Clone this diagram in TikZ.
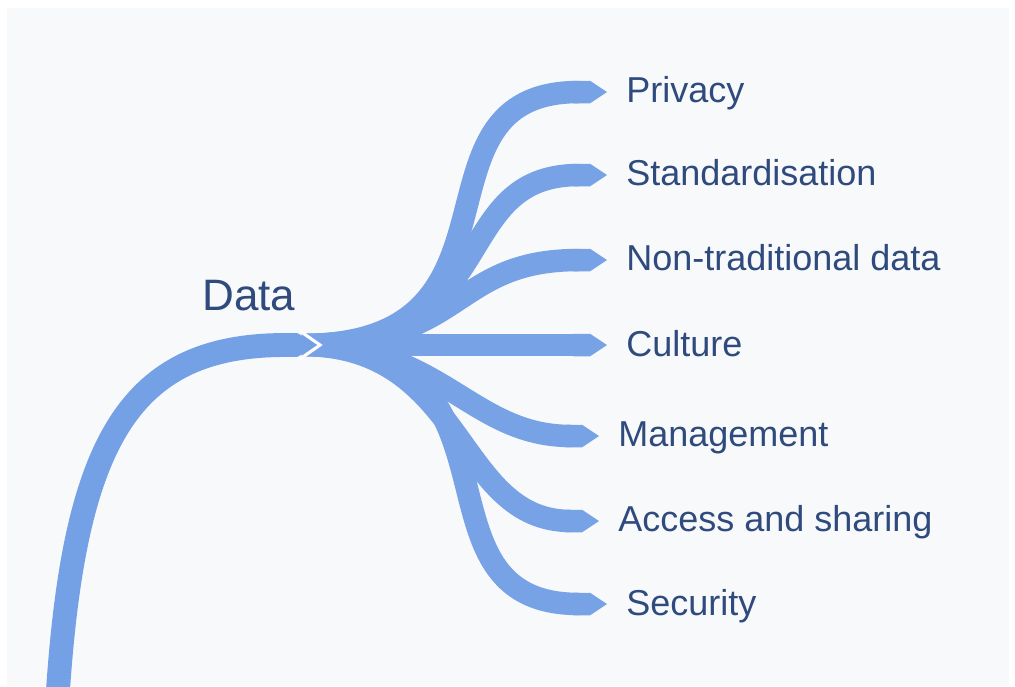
\documentclass[tikz,border=0pt]{standalone}
\usepackage{fontspec}
\setmainfont{Liberation Sans}
\usepackage{tikz}
\usetikzlibrary{arrows.meta, positioning, calc}
\definecolor{branchblue}{HTML}{78A2E6}
\definecolor{stemblue}{HTML}{74A0E6}
\definecolor{labelblue}{HTML}{2F4A7C}
\definecolor{panelgrey}{HTML}{F8F9FB}
\tikzset{
    branch/.style={draw=branchblue, line width=16pt, -{Triangle Cap[length=12pt]}},
    stem/.style={draw=stemblue, line width=17pt, -{Triangle Cap[length=14pt]}},
    notch/.style={draw=white, line width=2.2pt, line join=miter},
    lbl/.style={anchor=base west, inner sep=0pt, text=labelblue, font=\fontsize{25.6}{30}\selectfont},
    toplbl/.style={lbl, font=\fontsize{31.3}{36}\selectfont},
}

\begin{document}
\begin{tikzpicture}[x=0.025cm, y=-0.025cm]
    \useasboundingbox (0,0) rectangle (1015,686);
    \fill[white] (0,0) rectangle (1015,686);
    \fill[panelgrey] (7,8) rectangle (1009,686);

    \coordinate (s0) at (58,690);
    \coordinate (s1) at (317,345);
    \coordinate (root) at (302,345);

    \coordinate (bpriv) at (607,92);
    \coordinate (bstd) at (607,175);
    \coordinate (bntd) at (607,260);
    \coordinate (bcult) at (607,345);
    \coordinate (bmgmt) at (599,436);
    \coordinate (bacc) at (599,521);
    \coordinate (bsec) at (607,604);

    \node[toplbl] (data) at (202,310) {Data};
    \node[lbl] (priv) at (626,102) {Privacy};
    \node[lbl] (std) at (626,185) {Standardisation};
    \node[lbl] (ntd) at (626,270) {Non-traditional data};
    \node[lbl] (cult) at (626,356) {Culture};
    \node[lbl] (mgmt) at (618,446) {Management};
    \node[lbl] (acc) at (618,531) {Access and sharing};
    \node[lbl] (sec) at (626,615) {Security};

    \draw[branch] (root) -- (bcult);
    \draw[branch] (root) .. controls +(165,0) and +(-157,0) .. (bntd);
    \draw[branch] (root) .. controls +(205,0) and +(-162,0) .. (bstd);
    \draw[branch] (root) .. controls +(240,0) and +(-207,0) .. (bpriv);
    \draw[branch] (root) .. controls +(140,0) and +(-129,0) .. (bmgmt);
    \draw[branch] (root) .. controls +(165,0) and +(-144,0) .. (bacc);
    \draw[branch] (root) .. controls +(240,0) and +(-207,0) .. (bsec);

    \draw[notch] (300,331) -- (320,345) -- (300,359);
    \draw[stem] (s0) .. controls +(17,-250) and +(-187,0) .. (s1);

  \end{tikzpicture}
\end{document}
